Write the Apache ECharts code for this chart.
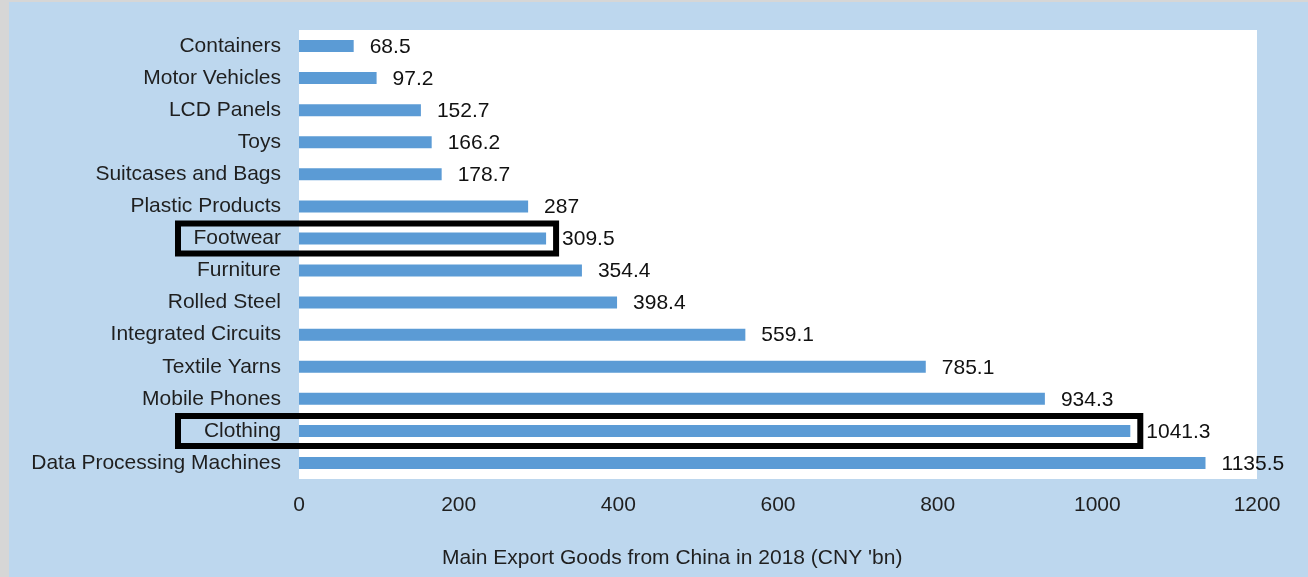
<!DOCTYPE html>
<html>
<head>
<meta charset="utf-8">
<script src="https://cdn.jsdelivr.net/npm/echarts@6/dist/echarts.min.js"></script>
<style>
html,body{margin:0;padding:0;background:#d6d6d6;width:1308px;height:577px;overflow:hidden;}
#chart{position:absolute;left:9px;top:2px;width:1299px;height:575px;}
</style>
</head>
<body>
<div id="chart"></div>
<script>
const categories = ["Containers","Motor Vehicles","LCD Panels","Toys","Suitcases and Bags","Plastic Products","Footwear","Furniture","Rolled Steel","Integrated Circuits","Textile Yarns","Mobile Phones","Clothing","Data Processing Machines"];
const values = [68.5,97.2,152.7,166.2,178.7,287,309.5,354.4,398.4,559.1,785.1,934.3,1041.3,1135.5];
const highlighted = ["Footwear","Clothing"];
const axisTitle = "Main Export Goods from China in 2018 (CNY 'bn)";
const FONT = "'Liberation Sans', Arial, sans-serif";

const chart = echarts.init(document.getElementById('chart'));
chart.setOption({
  backgroundColor: '#BDD7EE',
  animation: false,
  title: {
    text: axisTitle,
    left: 428, top: 541,
    textStyle: {fontFamily: FONT, fontSize: 21, fontWeight: 'normal', color: '#1f1f1f'}
  },
  grid: {left: 290, right: 51, top: 28, bottom: 98, show: true, backgroundColor: '#fff', borderWidth: 0},
  xAxis: {
    type: 'value', min: 0, max: 1200, interval: 200,
    axisLine: {show: false}, axisTick: {show: false}, splitLine: {show: false},
    axisLabel: {fontFamily: FONT, fontSize: 21, color: '#1f1f1f', margin: 16, formatter: v => String(v)}
  },
  yAxis: {
    type: 'category', data: categories, inverse: true,
    axisLine: {show: false}, axisTick: {show: false}, splitLine: {show: false},
    axisLabel: {fontFamily: FONT, fontSize: 21, color: '#1f1f1f', margin: 18}
  },
  series: [{
    type: 'bar', data: values, barWidth: 12,
    itemStyle: {color: '#5B9BD5'},
    label: {show: true, position: 'right', distance: 16, fontFamily: FONT, fontSize: 21, color: '#111', offset: [0, 1]}
  }]
});

const boxes = highlighted.map(name => {
  const i = categories.indexOf(name);
  const p = chart.convertToPixel({gridIndex: 0}, [values[i], name]);
  const x0 = 169;
  return {
    type: 'rect', z: 100,
    shape: {x: x0, y: p[1] - 15, width: p[0] + 10 - x0, height: 30},
    style: {fill: 'none', stroke: '#000', lineWidth: 6}
  };
});
chart.setOption({graphic: boxes});
</script>
</body>
</html>
